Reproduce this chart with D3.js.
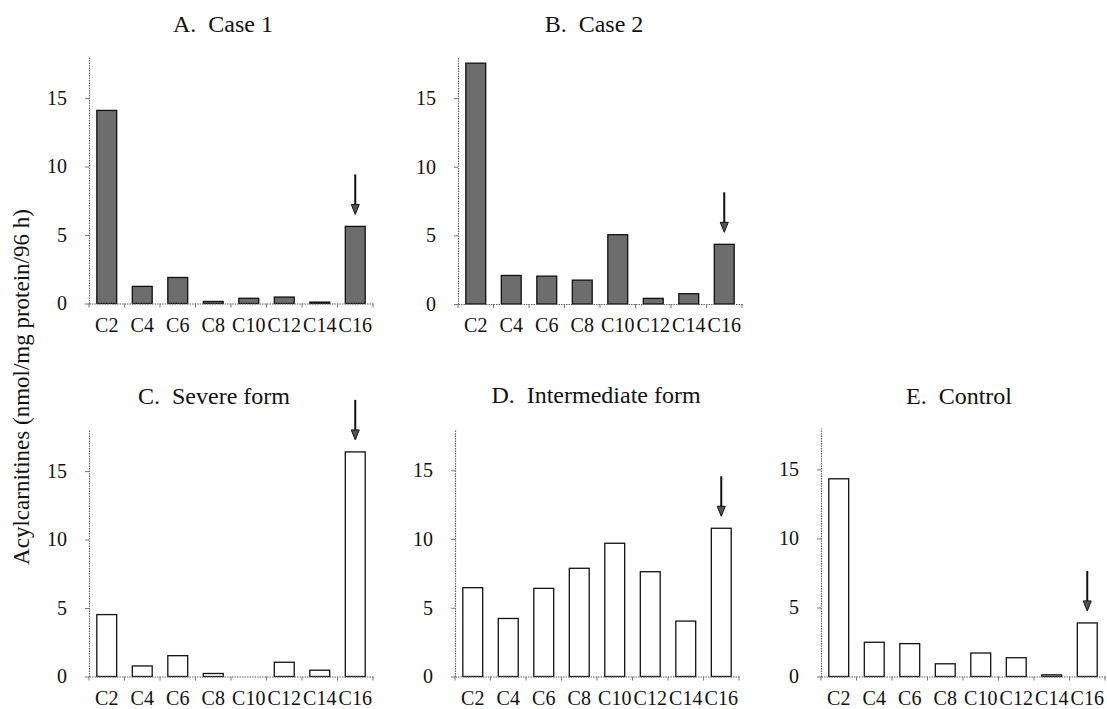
<!DOCTYPE html>
<html>
<head>
<meta charset="utf-8">
<script src="https://cdn.jsdelivr.net/npm/d3@7"></script>
<style>
  body { margin: 0; background: #fff; }
  svg { display: block; }
  text { font-family: "Liberation Serif", "Times New Roman", serif; fill: #111; }
</style>
</head>
<body>
<svg id="chart" width="1107" height="709"></svg>
<script>
// acyl chain lengths on the x axis
var categories = ["C2", "C4", "C6", "C8", "C10", "C12", "C14", "C16"];

// acylcarnitines, nmol/mg protein/96 h
var case1 = [14.1, 1.25, 1.9, 0.15, 0.38, 0.47, 0.1, 5.63];
var case2 = [17.55, 2.08, 2.03, 1.74, 5.05, 0.41, 0.75, 4.35];
var severe = [4.52, 0.77, 1.52, 0.22, 0, 1.04, 0.46, 16.4];
var intermediate = [6.46, 4.22, 6.41, 7.87, 9.69, 7.62, 4.03, 10.78];
var control = [14.32, 2.48, 2.38, 0.92, 1.7, 1.36, 0.12, 3.88];

var yTicks = [0, 5, 10, 15];
var yMax = 18;
var arrowAt = "C16";

var titles = ["A.\u00a0\u00a0Case 1", "B.\u00a0\u00a0Case 2", "C.\u00a0\u00a0Severe form",
              "D.\u00a0\u00a0Intermediate form", "E.\u00a0\u00a0Control"];
var yLabel = "Acylcarnitines (nmol/mg protein/96 h)";

// panel placement (axis origin in px), kept apart from the data
var panels = [
  { values: case1,        title: titles[0], x0: 89,  top: 57,  zero: 303.5, titleX: 223, titleY: 32,  fill: "#6d6d6d" },
  { values: case2,        title: titles[1], x0: 458, top: 57,  zero: 304,   titleX: 594, titleY: 32,  fill: "#6d6d6d" },
  { values: severe,       title: titles[2], x0: 89,  top: 430, zero: 676.5, titleX: 214, titleY: 404, fill: "#fff" },
  { values: intermediate, title: titles[3], x0: 455, top: 429, zero: 676.5, titleX: 596, titleY: 403, fill: "#fff" },
  { values: control,      title: titles[4], x0: 821, top: 428, zero: 676.5, titleX: 959, titleY: 404, fill: "#fff" }
];
var panelWidth = 284;
var serif = "'Liberation Serif', 'Times New Roman', serif";

var svg = d3.select("#chart");

panels.forEach(function(p) {
  var x = d3.scaleBand().domain(categories)
            .range([p.x0, p.x0 + panelWidth])
            .paddingInner(0.44).paddingOuter(0.22);
  var y = d3.scaleLinear().domain([0, yMax]).range([p.zero, p.top]);
  var g = svg.append("g");

  // bars
  g.selectAll("rect").data(p.values.map(function(v, i) { return { c: categories[i], v: v }; })
      .filter(function(d) { return d.v > 0; }))
    .enter().append("rect")
    .attr("x", function(d) { return x(d.c); })
    .attr("y", function(d) { return y(d.v); })
    .attr("width", x.bandwidth())
    .attr("height", function(d) { return y(0) - y(d.v); })
    .attr("fill", p.fill)
    .attr("stroke", "#111")
    .attr("stroke-width", 1.3);

  // y axis
  var yAxis = d3.axisLeft(y).tickValues(yTicks).tickSize(4).tickSizeOuter(0).tickPadding(18);
  var ya = g.append("g").attr("transform", "translate(" + p.x0 + ",0)").call(yAxis)
    .attr("font-family", serif).attr("font-size", 20);
  ya.select(".domain").attr("stroke", "#666").attr("stroke-dasharray", "1.5,1").attr("stroke-width", 1.2);
  ya.selectAll(".tick line").attr("stroke", "#777");
  ya.selectAll("text").attr("fill", "#111");

  // x axis: labels centred on bars, small ticks between them
  var xAxis = d3.axisBottom(x).tickSize(0).tickPadding(14);
  var xa = g.append("g").attr("transform", "translate(0," + p.zero + ")").call(xAxis)
    .attr("font-family", serif).attr("font-size", 20);
  xa.select(".domain").attr("stroke", "#666").attr("stroke-dasharray", "1.5,1").attr("stroke-width", 1.2);
  xa.selectAll("text").attr("fill", "#111");

  var bounds = categories.map(function(c) { return x(c) - x.step() * x.paddingInner() / 2; });
  bounds.push(p.x0 + panelWidth);
  g.selectAll("line.sep").data(bounds).enter().append("line")
    .attr("class", "sep")
    .attr("x1", function(d) { return d; }).attr("x2", function(d) { return d; })
    .attr("y1", p.zero).attr("y2", p.zero + 4)
    .attr("stroke", "#777");

  // arrow above the C16 bar
  var ax = x(arrowAt) + x.bandwidth() / 2;
  var tip = y(p.values[categories.indexOf(arrowAt)]) - 12;
  g.append("line")
    .attr("x1", ax).attr("x2", ax)
    .attr("y1", tip - 40).attr("y2", tip - 8)
    .attr("stroke", "#111").attr("stroke-width", 2);
  g.append("path")
    .attr("d", "M" + (ax - 4) + "," + (tip - 10) + "L" + (ax + 4) + "," + (tip - 10) + "L" + ax + "," + tip + "Z")
    .attr("fill", "#555").attr("stroke", "#111").attr("stroke-width", 1);

  // title
  svg.append("text")
    .attr("x", p.titleX).attr("y", p.titleY)
    .attr("text-anchor", "middle")
    .attr("font-size", 24)
    .text(p.title);
});

svg.append("text")
  .attr("transform", "translate(29,387) rotate(-90)")
  .attr("text-anchor", "middle")
  .attr("font-size", 23)
  .text(yLabel);
</script>
</body>
</html>
